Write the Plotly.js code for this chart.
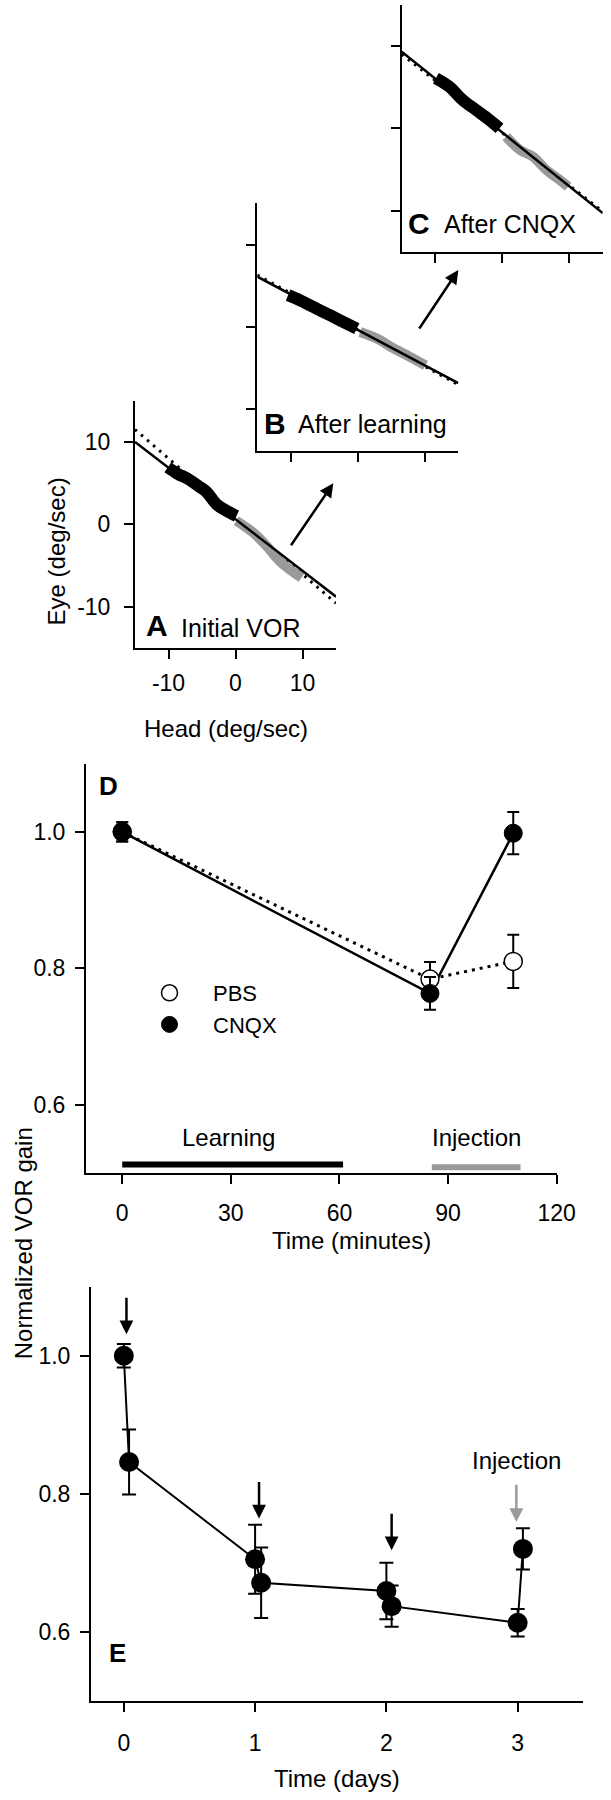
<!DOCTYPE html>
<html>
<head>
<meta charset="utf-8">
<script src="https://cdn.plot.ly/plotly-3.0.1.min.js"></script>
<style>html,body{margin:0;padding:0;background:#fff;}#chart{width:611px;height:1800px;}</style>
</head>
<body>
<div id="chart"></div>
<script>
// ---------- Data ----------
// Panels A-C: eye velocity vs head velocity (deg/sec)
const fitX = [-15, 15];
const fitA = [10.0, -8.8];
const fitADotted = [11.5, -9.6];
const fitB = [6.1, -6.8];
const fitBDotted = [6.3, -7.0];
const fitC = [9.3, -10.3];
const fitCDotted = [9.0, -10.1];

const blackAX = [-10.1, -8.6, -7.1, -5.3, -4.3, -2.8, -1.3, 0.15];
const blackAY = [6.9, 6.1, 5.5, 4.5, 3.9, 2.4, 1.6, 1.0];
const grayAX = [0.15, 2.6, 4.6, 6.6, 8.1, 9.85];
const grayAY = [0.4, -1.0, -2.6, -4.5, -5.5, -6.5];

const blackBX = [-10.4, -8.65, -6.65, -4.65, -2.65, -0.15];
const blackBY = [3.86, 3.25, 2.43, 1.63, 0.81, -0.2];
const grayBX = [0.34, 2.85, 5.35, 7.85, 10.1];
const grayBY = [-0.6, -1.4, -2.6, -3.65, -4.66];

const blackCX = [-9.9, -7.9, -5.9, -3.9, -1.9, -0.4];
const blackCY = [6.1, 5.07, 3.44, 2.23, 1.01, 0.0];
const grayCX = [0.6, 2.6, 4.6, 6.6, 8.6, 9.85];
const grayCY = [-1.0, -2.6, -3.45, -5.06, -6.27, -7.08];

const headTicks = [-10, 0, 10];
const headTickText = ['-10', '0', '10'];
const eyeTicks = [-10, 0, 10];
const eyeTickText = ['-10', '0', '10'];

// Panel D: normalized VOR gain vs time (minutes)
const dTime = [0, 85, 108];
const pbsGain = [1.0, 0.784, 0.810];
const pbsErr = [0.014, 0.025, 0.039];
const cnqxGain = [1.0, 0.763, 0.998];
const cnqxErr = [0.014, 0.024, 0.031];
const learningPeriod = [0, 61];
const injectionPeriod = [85.5, 110];
const minuteTicks = [0, 30, 60, 90, 120];
const gainTicks = [0.6, 0.8, 1.0];
const gainTickText = ['0.6', '0.8', '1.0'];

// Panel E: normalized VOR gain vs time (days)
const eDays = [0.0, 0.04, 1.0, 1.046, 2.0, 2.04, 3.0, 3.04];
const eGain = [1.0, 0.846, 0.705, 0.671, 0.659, 0.637, 0.613, 0.720];
const eErr = [0.017, 0.047, 0.050, 0.051, 0.041, 0.030, 0.020, 0.030];
const trainingDays = [0.02, 1.03, 2.04];
const injectionDay = [2.99];
const dayTicks = [0, 1, 2, 3];

// ---------- Layout helpers ----------
const W = 611, H = 1800;
const F = 'Liberation Sans, Arial, Helvetica, sans-serif';
const px = v => v / W;
const py = v => 1 - v / H;
const GRAY = '#9a9a9a';

function axisBase(extra) {
  return Object.assign({
    showline: true, linecolor: 'black', linewidth: 2,
    ticks: 'outside', ticklen: 9, tickwidth: 2, tickcolor: 'black',
    showgrid: false, zeroline: false, fixedrange: true,
    tickfont: {family: F, size: 23, color: 'black'}
  }, extra);
}

const traces = [];
function panelTraces(xa, ya, dotY, fitY, bx, by, gx, gy) {
  traces.push({x: fitX, y: dotY, xaxis: xa, yaxis: ya, mode: 'lines', showlegend: false, hoverinfo: 'skip',
    line: {color: 'black', width: 3, dash: '2.5px,5.5px'}});
  traces.push({x: gx, y: gy, xaxis: xa, yaxis: ya, mode: 'lines', showlegend: false, hoverinfo: 'skip',
    line: {color: GRAY, width: 10, shape: 'spline'}});
  traces.push({x: bx, y: by, xaxis: xa, yaxis: ya, mode: 'lines', showlegend: false, hoverinfo: 'skip',
    line: {color: 'black', width: 12, shape: 'spline'}});
  traces.push({x: fitX, y: fitY, xaxis: xa, yaxis: ya, mode: 'lines', showlegend: false, hoverinfo: 'skip',
    line: {color: 'black', width: 2.5}});
}
panelTraces('x', 'y', fitADotted, fitA, blackAX, blackAY, grayAX, grayAY);
panelTraces('x2', 'y2', fitBDotted, fitB, blackBX, blackBY, grayBX, grayBY);
panelTraces('x3', 'y3', fitCDotted, fitC, blackCX, blackCY, grayCX, grayCY);

// Panel D
const barY = 0.512;
traces.push({x: learningPeriod, y: learningPeriod.map(() => barY), xaxis: 'x4', yaxis: 'y4', mode: 'lines',
  showlegend: false, hoverinfo: 'skip', line: {color: 'black', width: 6}});
traces.push({x: injectionPeriod, y: injectionPeriod.map(() => barY - 0.004), xaxis: 'x4', yaxis: 'y4', mode: 'lines',
  showlegend: false, hoverinfo: 'skip', line: {color: GRAY, width: 6}});
traces.push({x: dTime, y: pbsGain, xaxis: 'x4', yaxis: 'y4', mode: 'lines', showlegend: false,
  line: {color: 'black', width: 3, dash: '3px,5px'}});
traces.push({x: dTime, y: cnqxGain, xaxis: 'x4', yaxis: 'y4', mode: 'lines', showlegend: false,
  line: {color: 'black', width: 2.5}});
traces.push({x: dTime, y: pbsGain, xaxis: 'x4', yaxis: 'y4', mode: 'markers', name: 'PBS',
  marker: {symbol: 'circle', size: 18, color: 'white', line: {color: 'black', width: 1.5}},
  error_y: {type: 'data', array: pbsErr, visible: true, color: 'black', thickness: 2, width: 6}});
traces.push({x: dTime, y: cnqxGain, xaxis: 'x4', yaxis: 'y4', mode: 'markers', name: 'CNQX',
  marker: {symbol: 'circle', size: 18, color: 'black', line: {color: 'black', width: 1}},
  error_y: {type: 'data', array: cnqxErr, visible: true, color: 'black', thickness: 2, width: 6}});

// Panel E
traces.push({x: eDays, y: eGain, xaxis: 'x5', yaxis: 'y5', mode: 'lines+markers', showlegend: false,
  line: {color: 'black', width: 2},
  marker: {symbol: 'circle', size: 20, color: 'black'},
  error_y: {type: 'data', array: eErr, visible: true, color: 'black', thickness: 2, width: 7}});

const annotations = [];
function txt(x, y, text, size, opts) {
  annotations.push(Object.assign({xref: 'paper', yref: 'paper', x: px(x), y: py(y), text: text,
    showarrow: false, xanchor: 'center', yanchor: 'middle',
    font: {family: F, size: size, color: 'black'}}, opts || {}));
}
// axis titles
txt(56.7, 551.7, 'Eye (deg/sec)', 24, {textangle: -90});
txt(225.7, 728.3, 'Head (deg/sec)', 24);
txt(351.7, 1240, 'Time (minutes)', 24);
txt(23.3, 1243, 'Normalized VOR gain', 24, {textangle: -90});
txt(336.7, 1778.3, 'Time (days)', 24);
// panel labels
txt(144, 626, '<b>A</b>', 30, {xanchor: 'left'});
txt(179, 628, 'Initial VOR', 25, {xanchor: 'left'});
txt(262, 423, '<b>B</b>', 30, {xanchor: 'left'});
txt(296, 424, 'After learning', 25, {xanchor: 'left'});
txt(406, 223, '<b>C</b>', 30, {xanchor: 'left'});
txt(442, 224, 'After CNQX', 25, {xanchor: 'left'});
txt(97, 786, '<b>D</b>', 26, {xanchor: 'left'});
txt(107, 1653, '<b>E</b>', 26, {xanchor: 'left'});

// arrows between scatter panels
function paperArrow(tipX, tipY, tailX, tailY) {
  annotations.push({xref: 'paper', yref: 'paper', x: px(tipX), y: py(tipY), text: '',
    showarrow: true, ax: tailX - tipX, ay: tailY - tipY, arrowhead: 2, arrowsize: 1.1, arrowwidth: 2.5,
    arrowcolor: 'black', standoff: 0});
}
paperArrow(333.3, 483.3, 290, 546.7);
paperArrow(458.3, 270, 418.3, 330);

// Panel D texts
annotations.push({xref: 'x4', yref: 'y4', x: 29.3, y: 0.551, text: 'Learning', showarrow: false,
  font: {family: F, size: 24, color: 'black'}});
annotations.push({xref: 'x4', yref: 'y4', x: 97.9, y: 0.551, text: 'Injection', showarrow: false,
  font: {family: F, size: 24, color: 'black'}});

// Panel E arrows
trainingDays.forEach((d, i) => {
  const tips = [1.031, 0.764, 0.718];
  annotations.push({xref: 'x5', yref: 'y5', axref: 'x5', ayref: 'y5', x: d, y: tips[i], ax: d, ay: tips[i] + 0.055,
    text: '', showarrow: true, arrowhead: 2, arrowsize: 1.1, arrowwidth: 2.5, arrowcolor: 'black', standoff: 0});
});
injectionDay.forEach(d => {
  annotations.push({xref: 'x5', yref: 'y5', axref: 'x5', ayref: 'y5', x: d, y: 0.759, ax: d, ay: 0.815,
    text: '', showarrow: true, arrowhead: 2, arrowsize: 1.1, arrowwidth: 2.5, arrowcolor: GRAY, standoff: 0});
  annotations.push({xref: 'x5', yref: 'y5', x: d, y: 0.848, text: 'Injection', showarrow: false,
    font: {family: F, size: 24, color: 'black'}});
});

const layout = {
  width: W, height: H,
  margin: {l: 0, r: 0, t: 0, b: 0, pad: 0},
  paper_bgcolor: 'white', plot_bgcolor: 'rgba(0,0,0,0)',
  font: {family: F, color: 'black'},
  showlegend: true,
  legend: {x: px(126), y: py(972), xanchor: 'left', yanchor: 'top', bgcolor: 'rgba(0,0,0,0)',
    font: {family: F, size: 22, color: 'black'}, itemwidth: 77, tracegroupgap: 0},
  xaxis: axisBase({domain: [px(135), px(336)], range: [-15, 15], tickvals: headTicks, ticktext: headTickText, anchor: 'y', ticklabelstandoff: 5}),
  yaxis: axisBase({domain: [py(647.7), py(400.7)], range: [-15, 15], tickvals: eyeTicks, ticktext: eyeTickText, anchor: 'x', ticklabelstandoff: 9}),
  xaxis2: axisBase({domain: [px(257.3), px(458.3)], range: [-15, 15], tickvals: headTicks, anchor: 'y2', showticklabels: false}),
  yaxis2: axisBase({domain: [py(450.7), py(203.3)], range: [-15, 15], tickvals: eyeTicks, anchor: 'x2', showticklabels: false}),
  xaxis3: axisBase({domain: [px(401.7), px(602.7)], range: [-15, 15], tickvals: headTicks, anchor: 'y3', showticklabels: false}),
  yaxis3: axisBase({domain: [py(251.8), py(4.9)], range: [-15, 15], tickvals: eyeTicks, anchor: 'x3', showticklabels: false}),
  xaxis4: axisBase({domain: [px(86), px(556.7)], range: [-10, 120], tickvals: minuteTicks, anchor: 'y4', ticklabelstandoff: 10}),
  yaxis4: axisBase({domain: [py(1172.7), py(763.7)], range: [0.5, 1.1], tickvals: gainTicks, ticktext: gainTickText, anchor: 'x4', ticklabelstandoff: 5}),
  xaxis5: axisBase({domain: [px(91), px(583.3)], range: [-0.25, 3.5], tickvals: dayTicks, anchor: 'y5', ticklabelstandoff: 12}),
  yaxis5: axisBase({domain: [py(1700.7), py(1286.7)], range: [0.5, 1.1], tickvals: gainTicks, ticktext: gainTickText, anchor: 'x5', ticklabelstandoff: 5}),
  annotations: annotations
};

Plotly.newPlot('chart', traces, layout, {staticPlot: true, displayModeBar: false});
</script>
</body>
</html>
